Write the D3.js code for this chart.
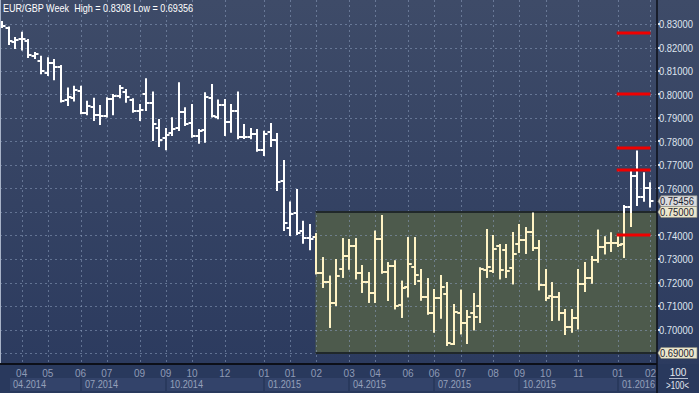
<!DOCTYPE html>
<html>
<head>
<meta charset="utf-8">
<script src="https://cdn.jsdelivr.net/npm/d3@7"></script>
<style>
  body { margin: 0; background: #26355a; }
  svg { display: block; font-family: "Liberation Sans", Arial, sans-serif; }
</style>
</head>
<body>
<div id="chart"></div>
<script>
// weekly EUR/GBP bars, index 0 = first week on the chart
var open = [0.8296,0.8283,0.8223,0.8235,0.8228,0.8164,0.8144,0.8093,0.8135,0.8118,
  0.7977,0.7984,0.8016,0.7920,0.7946,0.7913,0.7909,0.7981,0.7994,0.8012,
  0.7977,0.7931,0.8002,0.7965,0.7856,0.7814,0.7835,0.7856,0.7927,0.7877,
  0.7823,0.7849,0.7986,0.7906,0.7955,0.7883,0.7930,0.7818,0.7818,0.7831,
  0.7764,0.7842,0.7806,0.7632,0.7431,0.7494,0.7420,0.7388,0.7395,0.7242,
  0.7201,0.7111,0.7256,0.7313,0.7355,0.7242,0.7203,0.7157,0.7386,0.7246,
  0.7270,0.7104,0.7180,0.7267,0.7208,0.7137,0.7071,0.7133,0.7151,0.6940,
  0.7071,0.7026,0.7071,0.7100,0.7253,0.7249,0.7355,0.7338,0.7263,0.7364,
  0.7381,0.7414,0.7346,0.7189,0.7143,0.7137,0.7071,0.7009,0.7048,0.7194,
  0.7218,0.7294,0.7350,0.7367,0.7367,0.7364,0.7520,0.7653,0.7565,0.7601];

var high = [0.8308,0.8285,0.8240,0.8263,0.8232,0.8177,0.8161,0.8154,0.8147,0.8121,
  0.8026,0.8033,0.8033,0.7969,0.7982,0.7951,0.7984,0.7998,0.8036,0.8019,
  0.7980,0.7955,0.8065,0.8009,0.7891,0.7853,0.7899,0.8048,0.7941,0.7955,
  0.7849,0.8005,0.8040,0.7974,0.7977,0.7955,0.8008,0.7870,0.7853,0.7849,
  0.7842,0.7874,0.7832,0.7717,0.7540,0.7594,0.7459,0.7445,0.7405,0.7303,
  0.7225,0.7296,0.7384,0.7381,0.7384,0.7270,0.7239,0.7416,0.7483,0.7282,
  0.7289,0.7203,0.7388,0.7388,0.7253,0.7214,0.7168,0.7228,0.7198,0.7104,
  0.7165,0.7079,0.7151,0.7260,0.7423,0.7398,0.7360,0.7360,0.7411,0.7445,
  0.7431,0.7494,0.7377,0.7253,0.7197,0.7154,0.7083,0.7083,0.7253,0.7283,
  0.7309,0.7420,0.7392,0.7409,0.7398,0.7526,0.7676,0.7757,0.7665,0.7622];

var low = [0.8287,0.8215,0.8198,0.8192,0.8160,0.8155,0.8090,0.8083,0.8065,0.7970,
  0.7955,0.7974,0.7920,0.7916,0.7891,0.7874,0.7906,0.7916,0.7988,0.7969,
  0.7927,0.7891,0.7934,0.7806,0.7781,0.7767,0.7828,0.7849,0.7870,0.7820,
  0.7795,0.7799,0.7906,0.7899,0.7828,0.7842,0.7814,0.7815,0.7814,0.7761,
  0.7743,0.7781,0.7594,0.7423,0.7402,0.7406,0.7369,0.7341,0.7239,0.7182,
  0.7012,0.7104,0.7225,0.7260,0.7218,0.7161,0.7118,0.7118,0.7243,0.7126,
  0.7090,0.7054,0.7141,0.7194,0.7128,0.7068,0.6992,0.7051,0.69356,0.6938,
  0.6984,0.6943,0.7001,0.7032,0.7225,0.7246,0.7218,0.7225,0.7197,0.7331,
  0.7327,0.7338,0.7171,0.7126,0.7040,0.7043,0.6981,0.6991,0.7005,0.7164,
  0.7200,0.7289,0.7324,0.7335,0.7355,0.7310,0.7440,0.7530,0.7548,0.7523];

var close = [0.8291,0.8229,0.8232,0.8235,0.8168,0.8172,0.8100,0.8134,0.8118,0.7974,
  0.7988,0.8019,0.7923,0.7951,0.7913,0.7909,0.7981,0.7994,0.8026,0.7988,
  0.7931,0.7934,0.7965,0.7874,0.7806,0.7828,0.7852,0.7927,0.7874,0.7823,
  0.7845,0.7988,0.7909,0.7955,0.7883,0.7930,0.7820,0.7820,0.7831,0.7764,
  0.7832,0.7806,0.7629,0.7454,0.7491,0.7409,0.7388,0.7385,0.7242,0.7203,
  0.7111,0.7228,0.7313,0.7355,0.7242,0.7203,0.7157,0.7386,0.7246,0.7272,
  0.7099,0.7175,0.7279,0.7231,0.7137,0.7071,0.7133,0.7180,0.6941,0.7076,
  0.7029,0.7052,0.7054,0.7256,0.7267,0.7341,0.7253,0.7250,0.7321,0.7381,
  0.7414,0.7346,0.7189,0.7133,0.7137,0.7071,0.7009,0.7048,0.7194,0.7218,
  0.7294,0.7351,0.7367,0.7367,0.7359,0.7520,0.7653,0.7565,0.7601,0.75456];

// bottom axis: month ticks (bar index) and quarter labels
var monthIdx = [3,7,12,16,21,25,29,34,40,44,48,53,57,62,66,70,75,79,83,88,94,99];
var monthLabels = ["04","05","06","07","09","09","10","12","01","01","02",
  "03","04","06","06","07","08","09","10","11","01","02"];
var quarterIdx = [1,12,25,40,53,66,79,94];
var quarterLabels = ["04.2014","07.2014","10.2014","01.2015","04.2015","07.2015","10.2015","01.2016"];

// right axis
var priceTicks = [0.70,0.71,0.72,0.73,0.74,0.76,0.77,0.78,0.79,0.80,0.81,0.82,0.83];
var gridLevels = [0.69,0.70,0.71,0.72,0.73,0.74,0.75,0.76,0.77,0.78,0.79,0.80,0.81,0.82,0.83];
var boxRange = [0.69, 0.75];
var boxStartIdx = 48;
var redLevels = [0.8260, 0.8000, 0.7772, 0.7680, 0.7400];
var redIdx = [94, 99];

var svgWidth = 699;
var svgHeight = 393;
var plotRight = 657;
var plotBottom = 364;

var svg = d3.select("#chart")
  .append("svg")
  .attr("width", svgWidth)
  .attr("height", svgHeight);

var defs = svg.append("defs");
var grad = defs.append("linearGradient")
  .attr("id", "bg").attr("x1", 0).attr("y1", 0).attr("x2", 0).attr("y2", 1);
grad.append("stop").attr("offset", "0%").attr("stop-color", "#3e4b68");
grad.append("stop").attr("offset", "100%").attr("stop-color", "#2c3b5f");

var xScale = d3.scaleLinear().domain([0, 99]).range([2, 650.45]);
var yScale = d3.scaleLinear().domain([0.69, 0.83]).range([353, 24]);

// backgrounds
svg.append("rect").attr("x", 0).attr("y", 0).attr("width", svgWidth).attr("height", plotBottom)
  .attr("fill", "url(#bg)");
svg.append("rect").attr("x", 0).attr("y", plotBottom).attr("width", svgWidth).attr("height", svgHeight - plotBottom)
  .attr("fill", "#29395d");

// green box
var boxLeft = Math.round(xScale(boxStartIdx)) - 0.5;
svg.append("rect")
  .attr("x", boxLeft)
  .attr("y", yScale(boxRange[1]))
  .attr("width", plotRight - boxLeft)
  .attr("height", yScale(boxRange[0]) - yScale(boxRange[1]))
  .attr("fill", "#4d5a4c");

// grid
var grid = svg.append("g")
  .attr("stroke", "rgba(140,158,190,0.55)")
  .attr("stroke-width", 1)
  .attr("stroke-dasharray", "2,3");
grid.selectAll("line.h")
  .data(gridLevels)
  .enter()
  .append("line")
  .attr("x1", 0).attr("x2", plotRight)
  .attr("y1", d => Math.round(yScale(d)) + 0.5)
  .attr("y2", d => Math.round(yScale(d)) + 0.5);
grid.selectAll("line.v")
  .data(monthIdx)
  .enter()
  .append("line")
  .attr("x1", d => Math.round(xScale(d)) + 0.5)
  .attr("x2", d => Math.round(xScale(d)) + 0.5)
  .attr("y1", 0).attr("y2", plotBottom);

// box top / bottom edges
[boxRange[1], boxRange[0]].forEach(function (v) {
  svg.append("line")
    .attr("x1", boxLeft).attr("x2", plotRight)
    .attr("y1", Math.round(yScale(v))).attr("y2", Math.round(yScale(v)))
    .attr("stroke", "#20282a").attr("stroke-width", 2);
});

// ohlc bars
var bars = d3.range(open.length);

function drawBars(g, color) {
  var sel = g.selectAll("g.bar")
    .data(bars)
    .enter()
    .append("g")
    .attr("stroke", color)
    .attr("stroke-width", 2);
  sel.append("line")
    .attr("x1", i => Math.round(xScale(i)))
    .attr("x2", i => Math.round(xScale(i)))
    .attr("y1", i => yScale(high[i]) - 1)
    .attr("y2", i => yScale(low[i]) + 1);
  sel.append("line")
    .attr("x1", i => Math.round(xScale(i)) - 3.5)
    .attr("x2", i => Math.round(xScale(i)))
    .attr("y1", i => Math.round(yScale(open[i])))
    .attr("y2", i => Math.round(yScale(open[i])));
  sel.append("line")
    .attr("x1", i => Math.round(xScale(i)))
    .attr("x2", i => Math.round(xScale(i)) + 3.5)
    .attr("y1", i => Math.round(yScale(close[i])))
    .attr("y2", i => Math.round(yScale(close[i])));
}

drawBars(svg.append("g"), "#ffffff");

defs.append("clipPath").attr("id", "boxclip")
  .append("rect")
  .attr("x", boxLeft - 1)
  .attr("y", yScale(boxRange[1]) + 1)
  .attr("width", plotRight - boxLeft + 1)
  .attr("height", yScale(boxRange[0]) - yScale(boxRange[1]) - 1);
drawBars(svg.append("g").attr("clip-path", "url(#boxclip)"), "#fff3c4");

// red levels
svg.selectAll("line.red")
  .data(redLevels)
  .enter()
  .append("line")
  .attr("x1", xScale(redIdx[0]) - 1)
  .attr("x2", xScale(redIdx[1]))
  .attr("y1", d => Math.round(yScale(d)))
  .attr("y2", d => Math.round(yScale(d)))
  .attr("stroke", "#f00000")
  .attr("stroke-width", 3);

// title
svg.append("text")
  .attr("x", 3)
  .attr("y", 12)
  .attr("fill", "#ffffff")
  .attr("font-size", 10.5)
  .attr("textLength", 190)
  .attr("lengthAdjust", "spacingAndGlyphs")
  .style("white-space", "pre")
  .text("EUR/GBP Week  High = 0.8308 Low = 0.69356");

// axis frame lines
svg.append("line").attr("x1", 0.5).attr("x2", 0.5).attr("y1", 0).attr("y2", plotBottom)
  .attr("stroke", "#a8b3c8").attr("stroke-width", 1);
svg.append("line").attr("x1", 0).attr("x2", plotRight).attr("y1", plotBottom).attr("y2", plotBottom)
  .attr("stroke", "#0c0f18").attr("stroke-width", 2);
svg.append("line").attr("x1", plotRight).attr("x2", plotRight).attr("y1", 0).attr("y2", svgHeight)
  .attr("stroke", "#0c0f18").attr("stroke-width", 1.5);

// right axis labels
var rightAxis = svg.append("g");
rightAxis.selectAll("rect.tk")
  .data(priceTicks.concat([0.75, 0.69]))
  .enter()
  .append("rect")
  .attr("x", plotRight + 1)
  .attr("y", d => Math.round(yScale(d)) - 1)
  .attr("width", 2).attr("height", 2)
  .attr("fill", "#dfe5ef");
rightAxis.selectAll("text.tk")
  .data(priceTicks)
  .enter()
  .append("text")
  .attr("x", 659)
  .attr("y", d => yScale(d) + 4)
  .attr("fill", "#dfe5ef")
  .attr("font-size", 11)
  .attr("textLength", 34)
  .attr("lengthAdjust", "spacingAndGlyphs")
  .text(d => d.toFixed(5));

function priceTag(v, fillColor) {
  var y = yScale(v);
  var g = svg.append("g");
  g.append("path")
    .attr("d", `M${plotRight + 1},${y} L${plotRight + 4},${y - 5.5} L697,${y - 5.5} L697,${y + 5.5} L${plotRight + 4},${y + 5.5} Z`)
    .attr("fill", fillColor)
    .attr("stroke", "#8a8a80")
    .attr("stroke-width", 0.7);
  g.append("text")
    .attr("x", 660)
    .attr("y", y + 4)
    .attr("fill", "#1d2330")
    .attr("font-size", 11)
    .attr("textLength", 34)
    .attr("lengthAdjust", "spacingAndGlyphs")
    .text(v.toFixed(5));
}
priceTag(close[close.length - 1], "#d9dadc");
priceTag(boxRange[1], "#ebe6cc");
priceTag(boxRange[0], "#ebe6cc");

// bottom axis: quarter boxes and labels
svg.selectAll("rect.q")
  .data(quarterIdx)
  .enter()
  .append("rect")
  .attr("x", d => Math.round(xScale(d)) + 1)
  .attr("y", 378)
  .attr("width", (d, k) => (k < quarterIdx.length - 1 ? Math.round(xScale(quarterIdx[k + 1])) : plotRight) - Math.round(xScale(d)) - 2)
  .attr("height", 13)
  .attr("fill", "#33436a");
svg.selectAll("text.q")
  .data(quarterIdx)
  .enter()
  .append("text")
  .attr("x", d => Math.round(xScale(d)) + 4)
  .attr("y", 388)
  .attr("fill", "#95a1bb")
  .attr("font-size", 10)
  .attr("textLength", 33)
  .attr("lengthAdjust", "spacingAndGlyphs")
  .text((d, k) => quarterLabels[k]);

svg.selectAll("text.m")
  .data(monthIdx)
  .enter()
  .append("text")
  .attr("x", d => xScale(d))
  .attr("y", 377)
  .attr("text-anchor", "middle")
  .attr("fill", "#8e9ab5")
  .attr("font-size", 10)
  .text((d, k) => monthLabels[k]);

// corner
svg.append("text").attr("x", 678).attr("y", 376).attr("text-anchor", "middle")
  .attr("fill", "#e3e8f0").attr("font-size", 10).text("100");
svg.append("line").attr("x1", 669).attr("x2", 688).attr("y1", 378.5).attr("y2", 378.5)
  .attr("stroke", "#b8c0d0").attr("stroke-width", 1);
svg.append("text").attr("x", 666).attr("y", 389)
  .attr("fill", "#e3e8f0").attr("font-size", 10)
  .attr("textLength", 23).attr("lengthAdjust", "spacingAndGlyphs")
  .text(">100<");
</script>
</body>
</html>
